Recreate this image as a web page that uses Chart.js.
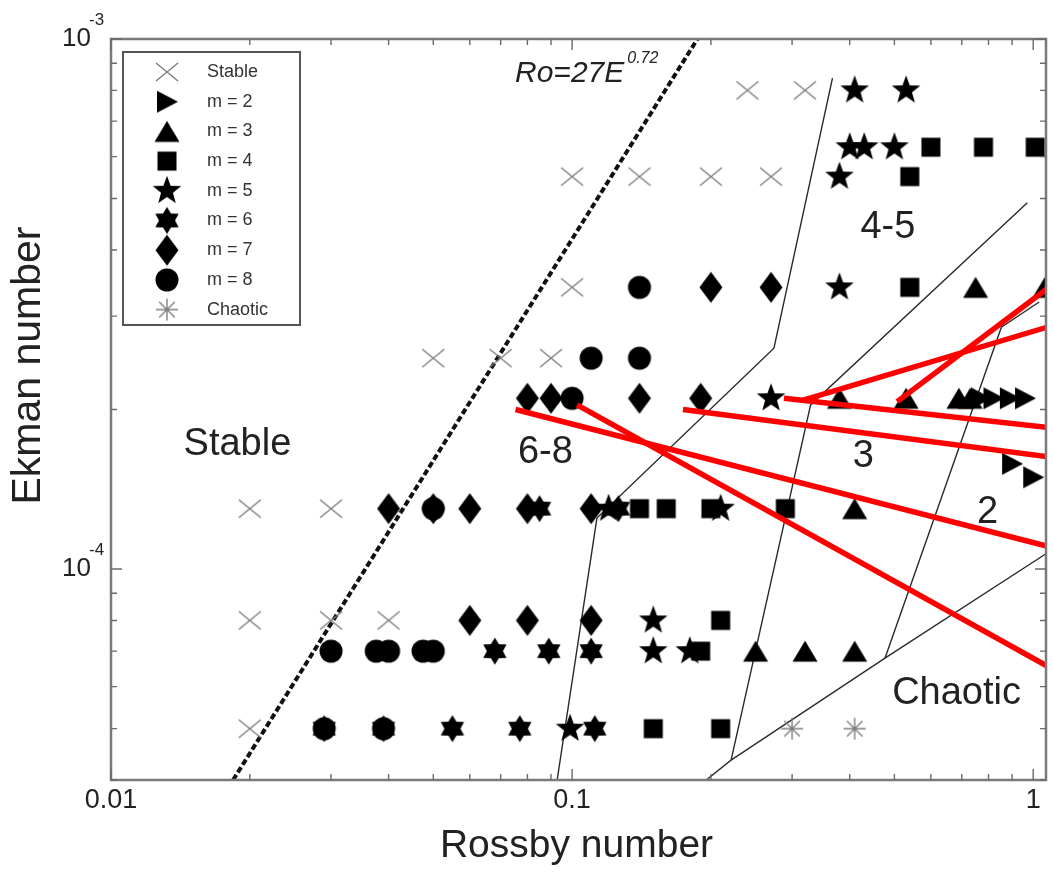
<!DOCTYPE html>
<html>
<head>
<meta charset="utf-8">
<title>Rossby - Ekman regime diagram</title>
<script src="https://cdn.jsdelivr.net/npm/chart.js@4.4.1/dist/chart.umd.min.js"></script>
<style>
  html, body { margin: 0; padding: 0; background: #fff; }
  #wrap { width: 1053px; height: 876px; }
</style>
</head>
<body>
<div id="wrap"><canvas id="regimeChart" width="1053" height="876"></canvas></div>
<script>
// Observed flow regimes, Rossby number (Ro) vs Ekman number (Ek)
const stableRo = [0.24, 0.32, 0.10, 0.14, 0.20, 0.27, 0.10, 0.05, 0.07, 0.09, 0.02, 0.03, 0.02, 0.03, 0.04, 0.02];
const stableEk = [8e-4, 8e-4, 5.5e-4, 5.5e-4, 5.5e-4, 5.5e-4, 3.4e-4, 2.5e-4, 2.5e-4, 2.5e-4, 1.3e-4, 1.3e-4, 8e-5, 8e-5, 8e-5, 5e-5];

const m2Ro = [0.77, 0.82, 0.89, 0.96, 0.90, 1.0];
const m2Ek = [2.1e-4, 2.1e-4, 2.1e-4, 2.1e-4, 1.58e-4, 1.49e-4];

const m3Ro = [0.75, 1.06, 0.38, 0.53, 0.69, 0.73, 0.41, 0.25, 0.32, 0.41];
const m3Ek = [3.4e-4, 3.4e-4, 2.1e-4, 2.1e-4, 2.1e-4, 2.1e-4, 1.3e-4, 7e-5, 7e-5, 7e-5];

const m4Ro = [0.60, 0.78, 1.01, 0.54, 0.54, 0.14, 0.16, 0.20, 0.29, 0.21, 0.19, 0.15, 0.21];
const m4Ek = [6.25e-4, 6.25e-4, 6.25e-4, 5.5e-4, 3.4e-4, 1.3e-4, 1.3e-4, 1.3e-4, 1.3e-4, 8e-5, 7e-5, 5e-5, 5e-5];

const m5Ro = [0.41, 0.53, 0.40, 0.43, 0.50, 0.38, 0.38, 0.27, 0.12, 0.21, 0.15, 0.15, 0.18, 0.099];
const m5Ek = [8e-4, 8e-4, 6.25e-4, 6.25e-4, 6.25e-4, 5.5e-4, 3.4e-4, 2.1e-4, 1.3e-4, 1.3e-4, 8e-5, 7e-5, 7e-5, 5e-5];

const m6Ro = [0.085, 0.126, 0.068, 0.089, 0.11, 0.029, 0.039, 0.055, 0.077, 0.112];
const m6Ek = [1.3e-4, 1.3e-4, 7e-5, 7e-5, 7e-5, 5e-5, 5e-5, 5e-5, 5e-5, 5e-5];

const m7Ro = [0.20, 0.27, 0.08, 0.09, 0.14, 0.19, 0.04, 0.05, 0.06, 0.08, 0.11, 0.06, 0.08, 0.11];
const m7Ek = [3.4e-4, 3.4e-4, 2.1e-4, 2.1e-4, 2.1e-4, 2.1e-4, 1.3e-4, 1.3e-4, 1.3e-4, 1.3e-4, 1.3e-4, 8e-5, 8e-5, 8e-5];

const m8Ro = [0.14, 0.11, 0.14, 0.10, 0.03, 0.0376, 0.04, 0.0475, 0.05, 0.05, 0.029, 0.039];
const m8Ek = [3.4e-4, 2.5e-4, 2.5e-4, 2.1e-4, 7e-5, 7e-5, 7e-5, 7e-5, 7e-5, 1.3e-4, 5e-5, 5e-5];

const chaoticRo = [0.30, 0.41];
const chaoticEk = [5e-5, 5e-5];

// Ro = 27 E^0.72 onset line (end points)
const onsetRo = [0.0184, 0.187];
const onsetEk = [4e-5, 1e-3];

// regime boundaries
const boundary1Ro = [0.0928, 0.1132, 0.274, 0.367];
const boundary1Ek = [4e-5, 1.248e-4, 2.61e-4, 8.44e-4];
const boundary2Ro = [0.1954, 0.2212, 0.329, 0.971];
const boundary2Ek = [4e-5, 4.36e-5, 2.04e-4, 4.91e-4];
const boundary3Ro = [0.2212, 0.477, 1.072];
const boundary3Ek = [4.36e-5, 6.79e-5, 1.072e-4];
const boundary4Ro = [0.477, 0.853, 1.03];
const boundary4Ek = [6.79e-5, 2.86e-4, 3.19e-4];

// red pointer strokes
const redFromRo = [0.0754, 0.1025, 0.174, 0.288, 0.316, 0.507];
const redFromEk = [2.0e-4, 2.04e-4, 2.0e-4, 2.1e-4, 2.08e-4, 2.07e-4];
const redToRo = [1.072, 1.072, 1.072, 1.072, 1.072, 1.072];
const redToEk = [1.105e-4, 6.56e-5, 1.63e-4, 1.85e-4, 2.86e-4, 3.38e-4];

// region names
const regionText = ['Stable', '6-8', '4-5', '3', '2', 'Chaotic'];
const regionRo = [0.0188, 0.0875, 0.484, 0.428, 0.796, 0.682];
const regionEk = [1.72e-4, 1.66e-4, 4.4e-4, 1.63e-4, 1.28e-4, 5.83e-5];

const fitLabelRo = 0.0752;
const fitLabelEk = 8.62e-4;

// axis ticks
const roTicks = [0.01, 0.1, 1];
const roTickLabels = ['0.01', '0.1', '1'];
const ekTicks = [1e-4, 1e-3];
const ekTickExp = ['-4', '-3'];

const legendLabels = ['Stable', 'm = 2', 'm = 3', 'm = 4', 'm = 5', 'm = 6', 'm = 7', 'm = 8', 'Chaotic'];

const FONT = '"Liberation Sans", Arial, Helvetica, sans-serif';

// ---- marker glyphs ----
function marker(w, h, draw) {
    const c = document.createElement('canvas');
    c.width = w;
    c.height = h;
    const g = c.getContext('2d');
    g.translate(w / 2, h / 2);
    draw(g);
    return c;
}

function polygon(g, pts) {
    g.beginPath();
    pts.forEach(([px, py], i) => (i ? g.lineTo(px, py) : g.moveTo(px, py)));
    g.closePath();
    g.fillStyle = '#000';
    g.fill();
}

function starPoints(n, outer, inner) {
    const pts = [];
    for (let i = 0; i < n * 2; i++) {
        const r = i % 2 ? inner : outer;
        const a = -Math.PI / 2 + i * Math.PI / n;
        pts.push([r * Math.cos(a), r * Math.sin(a)]);
    }
    return pts;
}

const crossMark = marker(26, 22, g => {
    g.strokeStyle = '#808080';
    g.lineWidth = 1.5;
    g.beginPath();
    g.moveTo(-11, -9); g.lineTo(11, 9);
    g.moveTo(-11, 9); g.lineTo(11, -9);
    g.stroke();
});
const triRight = marker(26, 26, g => polygon(g, [[-10, -11], [11, 0], [-10, 11]]));
const triUp = marker(28, 24, g => polygon(g, [[0, -10.5], [12.5, 10.5], [-12.5, 10.5]]));
const square = marker(22, 22, g => { g.fillStyle = '#000'; g.fillRect(-9.5, -9.5, 19, 19); });
const star5 = marker(32, 32, g => polygon(g, starPoints(5, 15, 6.2)));
const star6 = marker(30, 30, g => polygon(g, starPoints(6, 13.5, 8)));
const diamond = marker(26, 34, g => polygon(g, [[0, -15.5], [11.5, 0], [0, 15.5], [-11.5, 0]]));
const circle = marker(26, 26, g => {
    g.beginPath();
    g.arc(0, 0, 11.5, 0, Math.PI * 2);
    g.fillStyle = '#000';
    g.fill();
});
const asterisk = marker(26, 26, g => {
    g.strokeStyle = '#808080';
    g.lineWidth = 1.4;
    g.beginPath();
    for (let i = 0; i < 4; i++) {
        const a = i * Math.PI / 4;
        g.moveTo(-11 * Math.cos(a), -11 * Math.sin(a));
        g.lineTo(11 * Math.cos(a), 11 * Math.sin(a));
    }
    g.stroke();
});

const legendStyles = [crossMark, triRight, triUp, square, star5, star6, diamond, circle, asterisk];

function points(ro, ek) {
    return ro.map((x, i) => ({ x, y: ek[i] }));
}

function markerSet(label, ro, ek, style) {
    return {
        label,
        data: points(ro, ek),
        pointStyle: style,
        pointRadius: 6,
        pointHoverRadius: 6,
        showLine: false,
        clip: 0,
        order: 1,
    };
}

function lineSet(label, ro, ek, color, width, dash, order) {
    return {
        label,
        data: points(ro, ek),
        showLine: true,
        borderColor: color,
        borderWidth: width,
        borderDash: dash,
        pointRadius: 0,
        fill: false,
        tension: 0,
        clip: 0,
        order,
    };
}

const datasets = [
    lineSet('onset', onsetRo, onsetEk, '#111', 4, [6, 3], 3),
    lineSet('boundary 1', boundary1Ro, boundary1Ek, '#2a2a2a', 1.4, [], 2),
    lineSet('boundary 2', boundary2Ro, boundary2Ek, '#2a2a2a', 1.4, [], 2),
    lineSet('boundary 3', boundary3Ro, boundary3Ek, '#2a2a2a', 1.4, [], 2),
    lineSet('boundary 4', boundary4Ro, boundary4Ek, '#2a2a2a', 1.4, [], 2),
    markerSet('Stable', stableRo, stableEk, crossMark),
    markerSet('m = 2', m2Ro, m2Ek, triRight),
    markerSet('m = 3', m3Ro, m3Ek, triUp),
    markerSet('m = 4', m4Ro, m4Ek, square),
    markerSet('m = 5', m5Ro, m5Ek, star5),
    markerSet('m = 6', m6Ro, m6Ek, star6),
    markerSet('m = 7', m7Ro, m7Ek, diamond),
    markerSet('m = 8', m8Ro, m8Ek, circle),
    markerSet('Chaotic', chaoticRo, chaoticEk, asterisk),
];
redFromRo.forEach((ro, i) => {
    datasets.push(lineSet('pointer ' + (i + 1), [ro, redToRo[i]], [redFromEk[i], redToEk[i]], '#ff0000', 5.5, [], 0));
});

// region names and the onset-line formula, under the data
const regionLabels = {
    id: 'regionLabels',
    beforeDatasetsDraw(chart) {
        const { ctx, scales: { x, y } } = chart;
        ctx.save();
        ctx.fillStyle = '#222';
        ctx.textAlign = 'center';
        ctx.textBaseline = 'middle';
        ctx.font = '38px ' + FONT;
        regionText.forEach((t, i) => {
            ctx.fillText(t, x.getPixelForValue(regionRo[i]), y.getPixelForValue(regionEk[i]));
        });

        const fx = x.getPixelForValue(fitLabelRo);
        const fy = y.getPixelForValue(fitLabelEk);
        ctx.textAlign = 'left';
        ctx.font = 'italic 30px ' + FONT;
        ctx.fillText('Ro=27E', fx, fy);
        const w = ctx.measureText('Ro=27E').width;
        ctx.font = 'italic 16px ' + FONT;
        ctx.fillText('0.72', fx + w + 3, fy - 15);
        ctx.restore();
    }
};

// frame, inward ticks, tick labels, axis titles and the legend box
const frameAndLegend = {
    id: 'frameAndLegend',
    afterDatasetsDraw(chart) {
        const { ctx, chartArea: a, scales: { x, y } } = chart;
        ctx.save();

        ctx.strokeStyle = '#7a7a7a';
        ctx.lineWidth = 2.5;
        ctx.strokeRect(a.left, a.top, a.right - a.left, a.bottom - a.top);

        ctx.lineWidth = 1.4;
        ctx.strokeStyle = '#6a6a6a';
        ctx.beginPath();
        [0.01, 0.1, 1].forEach(dec => {
            for (let m = 1; m < 10; m++) {
                const v = dec * m;
                if (v < x.min || v > x.max) continue;
                const px = x.getPixelForValue(v);
                const len = m === 1 ? 11 : 6;
                ctx.moveTo(px, a.bottom); ctx.lineTo(px, a.bottom - len);
                ctx.moveTo(px, a.top); ctx.lineTo(px, a.top + len);
            }
        });
        [1e-5, 1e-4, 1e-3].forEach(dec => {
            for (let m = 1; m < 10; m++) {
                const v = dec * m;
                if (v < y.min || v > y.max) continue;
                const py = y.getPixelForValue(v);
                const len = m === 1 ? 11 : 6;
                ctx.moveTo(a.left, py); ctx.lineTo(a.left + len, py);
                ctx.moveTo(a.right, py); ctx.lineTo(a.right - len, py);
            }
        });
        ctx.stroke();

        // legend
        const box = { left: 123, top: 52, right: 300, bottom: 325 };
        ctx.fillStyle = '#fff';
        ctx.fillRect(box.left, box.top, box.right - box.left, box.bottom - box.top);
        ctx.strokeStyle = '#555';
        ctx.lineWidth = 2;
        ctx.strokeRect(box.left, box.top, box.right - box.left, box.bottom - box.top);
        ctx.font = '18px ' + FONT;
        ctx.fillStyle = '#333';
        ctx.textAlign = 'left';
        ctx.textBaseline = 'middle';
        legendLabels.forEach((label, i) => {
            const ly = 72 + i * 29.7;
            const img = legendStyles[i];
            ctx.drawImage(img, 167 - img.width / 2, ly - img.height / 2);
            ctx.fillText(label, 207, ly);
        });
        ctx.restore();
    },
    afterDraw(chart) {
        const { ctx, chartArea: a, scales: { x, y } } = chart;
        ctx.save();
        ctx.fillStyle = '#222';

        ctx.font = '27px ' + FONT;
        ctx.textAlign = 'center';
        ctx.textBaseline = 'middle';
        roTicks.forEach((v, i) => ctx.fillText(roTickLabels[i], x.getPixelForValue(v), a.bottom + 21));

        ekTicks.forEach((v, i) => {
            const py = y.getPixelForValue(v);
            ctx.font = '26px ' + FONT;
            ctx.textAlign = 'right';
            ctx.fillText('10', a.left - 20, py);
            ctx.font = '17px ' + FONT;
            ctx.textAlign = 'left';
            ctx.fillText(ekTickExp[i], a.left - 22, py - 19);
        });

        ctx.font = '39px ' + FONT;
        ctx.textAlign = 'center';
        ctx.fillText('Rossby number', (a.left + a.right) / 2 - 2, a.bottom + 66);

        ctx.font = '41px ' + FONT;
        ctx.translate(29, (a.top + a.bottom) / 2 - 44);
        ctx.rotate(-Math.PI / 2);
        ctx.fillText('Ekman number', 0, 0);
        ctx.restore();
    }
};

new Chart(document.getElementById('regimeChart').getContext('2d'), {
    type: 'scatter',
    data: { datasets },
    options: {
        responsive: false,
        animation: false,
        layout: { padding: { top: 39, right: 1, left: 0, bottom: 0 } },
        scales: {
            x: {
                type: 'logarithmic',
                min: 0.01,
                max: 1.066,
                grid: { display: false },
                border: { display: false },
                ticks: { display: false },
                afterFit(scale) { scale.height = 96; },
            },
            y: {
                type: 'logarithmic',
                min: 4e-5,
                max: 1e-3,
                grid: { display: false },
                border: { display: false },
                ticks: { display: false },
                afterFit(scale) { scale.width = 111; },
            },
        },
        plugins: {
            legend: { display: false },
            tooltip: { enabled: false },
        },
    },
    plugins: [regionLabels, frameAndLegend],
});
</script>
</body>
</html>
